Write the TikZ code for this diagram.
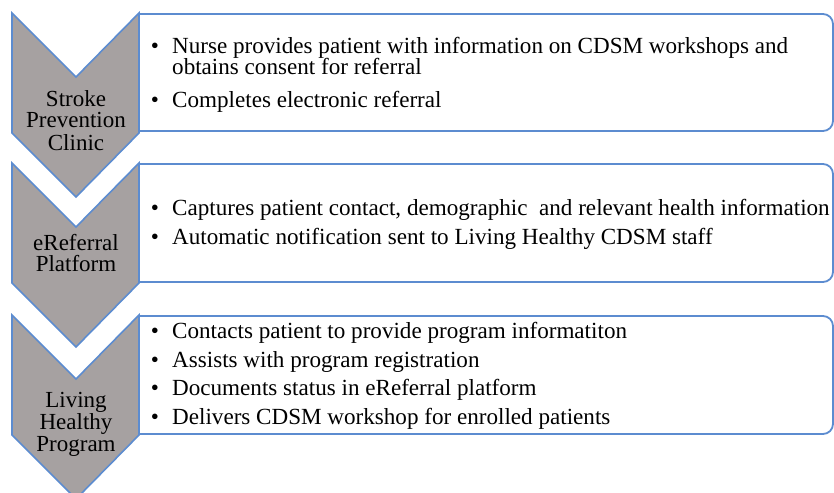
\documentclass[tikz,border=0pt]{standalone}
\usepackage{fontspec}
\setmainfont{Liberation Serif}
\definecolor{chevgray}{RGB}{166,161,161}
\definecolor{lineblue}{RGB}{92,140,208}
\begin{document}
\begin{tikzpicture}[x=1pt,y=-1pt,
  chev/.style={fill=chevgray,draw=lineblue,line width=1.6pt,line join=miter},
  infobox/.style={fill=white,draw=lineblue,line width=1.8pt},
  body/.style={font=\fontsize{23.1}{21}\selectfont,anchor=base west,inner sep=0pt},
  bul/.style={font=\fontsize{23.1}{21}\selectfont,anchor=base,inner sep=0pt},
  lab/.style={font=\fontsize{23}{21}\selectfont,anchor=base,inner sep=0pt}]
\useasboundingbox (0,0) rectangle (834,492);
\begin{scope}
\clip (0,0) rectangle (834,492);
% chevrons
\foreach \t in {13,163,315}{
  \draw[chev] (12,\t) -- (76,\t+64) -- (139,\t) -- (139,\t+120) -- (76,\t+184) -- (12,\t+120) -- cycle;
}
% boxes
\draw[infobox] (139,14) -- (823,14) arc[start angle=-90,end angle=0,radius=10] -- (833,121) arc[start angle=0,end angle=90,radius=10] -- (139,131) -- cycle;
\draw[infobox] (139,164) -- (823,164) arc[start angle=-90,end angle=0,radius=10] -- (833,272) arc[start angle=0,end angle=90,radius=10] -- (139,282) -- cycle;
\draw[infobox] (139,316) -- (823,316) arc[start angle=-90,end angle=0,radius=10] -- (833,424) arc[start angle=0,end angle=90,radius=10] -- (139,434) -- cycle;
\end{scope}
% chevron labels
\node[lab] (l1a) at (76,106.5) {Stroke};
\node[lab] (l1b) at (76,128) {Prevention};
\node[lab] (l1c) at (76,150) {Clinic};
\node[lab] (l2a) at (76,250) {eReferral};
\node[lab] (l2b) at (76,271.5) {Platform};
\node[lab] (l3a) at (76,407) {Living};
\node[lab] (l3b) at (76,429) {Healthy};
\node[lab] (l3c) at (76,451) {Program};
% box 1
\node[bul] (b11) at (155,54) {•};
\node[body] (t11) at (172,54) {Nurse provides patient with information on CDSM workshops and};
\node[body] (t11b) at (172,75) {obtains consent for referral};
\node[bul] (b12) at (155,107) {•};
\node[body] (t12) at (172,107) {Completes electronic referral};
% box 2
\node[bul] (b21) at (155,215.5) {•};
\node[body] (t21) at (172,215.5) {Captures patient contact, demographic~ and relevant health information};
\node[bul] (b22) at (155,244.5) {•};
\node[body] (t22) at (172,244.5) {Automatic notification sent to Living Healthy CDSM staff};
% box 3
\node[bul] (b31) at (155,338) {•};
\node[body] (t31) at (172,338) {Contacts patient to provide program informatiton};
\node[bul] (b32) at (155,367) {•};
\node[body] (t32) at (172,367) {Assists with program registration};
\node[bul] (b33) at (155,395.5) {•};
\node[body] (t33) at (172,395.5) {Documents status in eReferral platform};
\node[bul] (b34) at (155,424) {•};
\node[body] (t34) at (172,424) {Delivers CDSM workshop for enrolled patients};
\end{tikzpicture}
\end{document}
